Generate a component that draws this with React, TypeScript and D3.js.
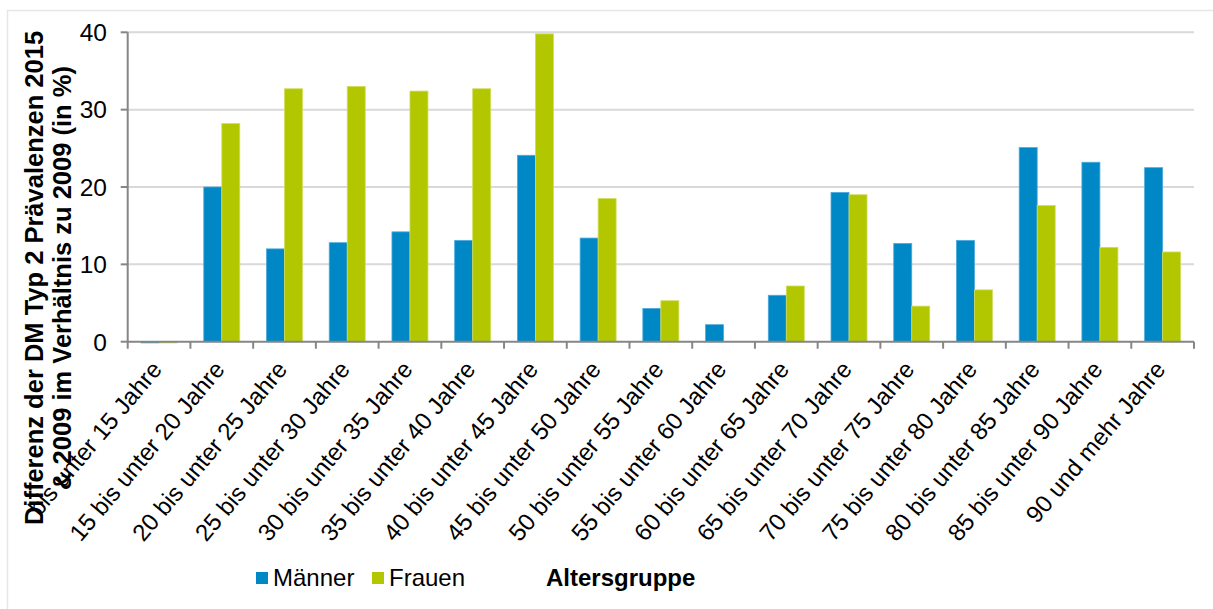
import React from "react";
import * as d3 from "d3";

const categories = [
  "bis unter 15 Jahre",
  "15 bis unter 20 Jahre",
  "20 bis unter 25 Jahre",
  "25 bis unter 30 Jahre",
  "30 bis unter 35 Jahre",
  "35 bis unter 40 Jahre",
  "40 bis unter 45 Jahre",
  "45 bis unter 50 Jahre",
  "50 bis unter 55 Jahre",
  "55 bis unter 60 Jahre",
  "60 bis unter 65 Jahre",
  "65 bis unter 70 Jahre",
  "70 bis unter 75 Jahre",
  "75 bis unter 80 Jahre",
  "80 bis unter 85 Jahre",
  "85 bis unter 90 Jahre",
  "90 und mehr Jahre",
];
const maenner = [-0.15, 20.0, 12.0, 12.8, 14.2, 13.1, 24.1, 13.4, 4.3, 2.2, 6.0, 19.3, 12.7, 13.1, 25.1, 23.2, 22.5];
const frauen = [-0.1, 28.2, 32.7, 33.0, 32.4, 32.7, 39.8, 18.5, 5.3, 0, 7.2, 19.0, 4.6, 6.7, 17.6, 12.2, 11.6];
const seriesNames = ["Männer", "Frauen"];
const yTicks = [0, 10, 20, 30, 40];

const W = 1213;
const H = 609;
const left = 127.7;
const right = 1194;
const top = 32.3;
const bottom = 341.7;
const colors = ["#0087C5", "#B2C700"];
const edge = ["#4BAADB", "#D0DD5E"];
const font = "'Liberation Sans', Arial, sans-serif";

export default function App() {
  const x = d3.scaleBand<string>().domain(categories).range([left, right]).paddingInner(0.426).paddingOuter(0.213);
  const xs = d3.scaleBand<string>().domain(seriesNames).range([0, x.bandwidth()]);
  const y = d3.scaleLinear().domain([0, 40]).range([bottom, top]);
  const step = x.step();
  const series = [maenner, frauen];

  return (
    <svg width={W} height={H} style={{ position: "absolute", left: 0, top: 0, background: "#fff" }} fontFamily={font}>
      <rect x={7.5} y={10.5} width={1230} height={640} fill="#fff" stroke="#e6e6e6" strokeWidth={1.5} />
      {yTicks.slice(1).map((t) => (
        <line key={t} x1={left} x2={right} y1={y(t)} y2={y(t)} stroke="#d9d9d9" strokeWidth={2} />
      ))}
      {categories.map((c, i) =>
        series.map((s, si) => {
          const v = s[i];
          if (v === 0) return null;
          const y0 = y(Math.max(0, v));
          const h = Math.abs(y(v) - y(0));
          return (
            <rect
              key={c + si}
              x={(x(c) as number) + (xs(seriesNames[si]) as number)}
              y={y0}
              width={xs.bandwidth()}
              height={Math.max(h, 1.2)}
              fill={colors[si]}
              stroke={edge[si]}
              strokeWidth={0.8}
            />
          );
        })
      )}
      {/* axes */}
      <line x1={left} x2={left} y1={top} y2={bottom} stroke="#868686" strokeWidth={2} />
      {yTicks.map((t) => (
        <g key={t}>
          <line x1={left - 7} x2={left} y1={y(t)} y2={y(t)} stroke="#868686" strokeWidth={2} />
          <text x={107} y={y(t)} dy="0.36em" textAnchor="end" fontSize={24.5} fill="#000">
            {t}
          </text>
        </g>
      ))}
      <line x1={left} x2={right} y1={bottom} y2={bottom} stroke="#868686" strokeWidth={2} />
      {d3.range(categories.length + 1).map((i) => (
        <line key={i} x1={left + i * step} x2={left + i * step} y1={bottom} y2={bottom + 7} stroke="#868686" strokeWidth={2} />
      ))}
      {categories.map((c) => {
        const cx = (x(c) as number) + x.bandwidth() / 2;
        return (
          <text key={c} transform={`translate(${cx - 2.5},${bottom + 23}) rotate(-50)`} textAnchor="end" dy="0.35em" fontSize={24} fill="#000">
            {c}
          </text>
        );
      })}
      {/* y title */}
      <text transform={`translate(43,278) rotate(-90)`} textAnchor="middle" fontSize={25.5} fontWeight="bold" fill="#000">
        Differenz der DM Typ 2 Prävalenzen 2015
      </text>
      <text transform={`translate(71,278) rotate(-90)`} textAnchor="middle" fontSize={25.5} fontWeight="bold" fill="#000">
        & 2009 im Verhältnis zu 2009 (in %)
      </text>
      {/* legend */}
      <rect x={256} y={572} width={12} height={12} fill={colors[0]} />
      <text x={273} y={586} fontSize={24} fill="#000">{seriesNames[0]}</text>
      <rect x={372} y={572} width={12} height={12} fill={colors[1]} />
      <text x={389} y={586} fontSize={24} fill="#000">{seriesNames[1]}</text>
      <text x={546} y={586} fontSize={24} fontWeight="bold" fill="#000">Altersgruppe</text>
    </svg>
  );
}
